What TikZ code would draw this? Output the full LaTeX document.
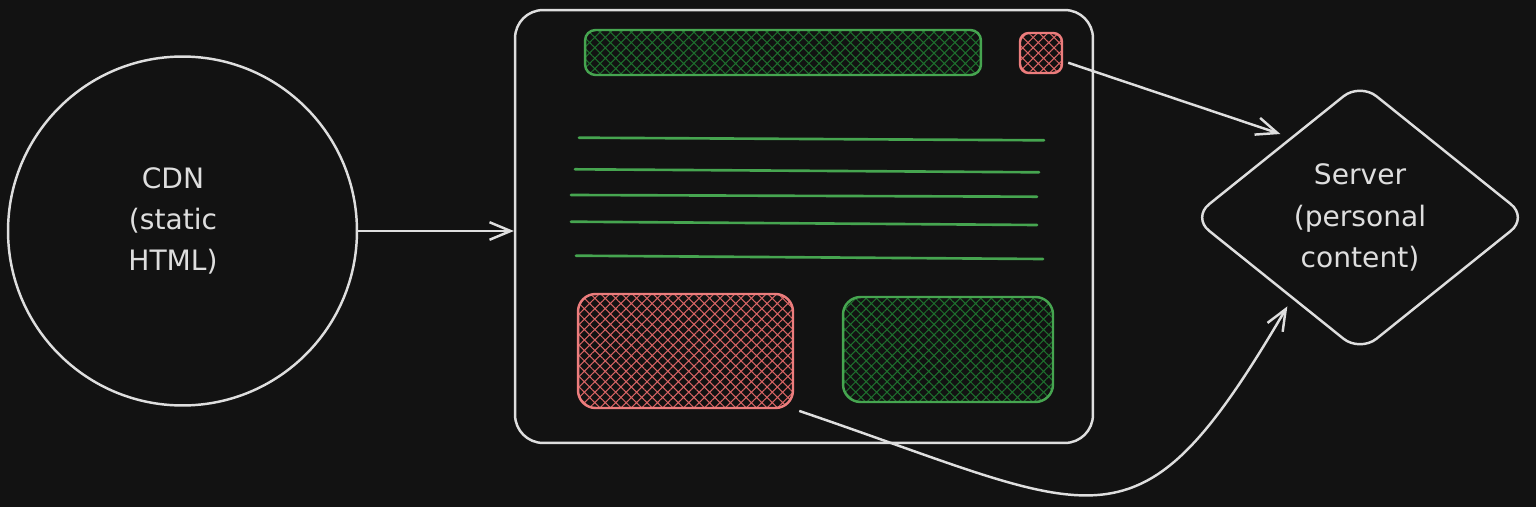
\documentclass[tikz,border=0pt]{standalone}
\usepackage{fontspec}
\setmainfont{DejaVu Sans}
\usetikzlibrary{shapes.geometric,arrows.meta,patterns.meta}
\definecolor{bgc}{HTML}{121212}
\definecolor{wht}{HTML}{DEDEDE}
\definecolor{grn}{RGB}{70,165,80}
\definecolor{grnh}{RGB}{30,110,45}
\definecolor{rd}{RGB}{236,125,125}
\definecolor{rdh}{RGB}{215,100,100}

\begin{document}
\begin{tikzpicture}[
x=0.02cm, y=-0.02cm,% one unit = one pixel of the sketch
    W/.style = {draw=wht, line width=1.4pt, inner sep=0pt},
    T/.style = {text=wht, align=center,
                font=\fontsize{16}{23.5}\selectfont},
    G/.style = {draw=grn, line width=1.5pt, line cap=round},% text lines
    H/.style 2 args = {draw=#1, line width=1.4pt, inner sep=0pt,
                pattern={Hatch[angle=45,distance=4.2pt,line width=0.6pt]},
                pattern color=#2},% hatched blocks
    A/.style = {draw=wht, line width=1.4pt,
                -{Straight Barb[length=12pt,width=10pt]}},
                        ]
\path[use as bounding box, fill=bgc] (0,0) rectangle (1536,507);
% nodes
\node[W, circle, minimum size=6.98cm] (cdn) at (182.5,231) {};
\node[T] (cdnlbl) at (173,221) {CDN\\(static\\HTML)};
\node[W, minimum width=11.56cm, minimum height=8.66cm,
      rounded corners=16pt] (page) at (804,226.5) {};
\node[H={grn}{grnh}, minimum width=7.92cm, minimum height=0.9cm,
      rounded corners=6pt] (bar) at (783,52.5) {};
\node[H={rd}{rdh}, minimum width=0.84cm, minimum height=0.8cm,
      rounded corners=5pt] (sq) at (1041,53) {};
\node[H={rd}{rdh}, minimum width=4.3cm, minimum height=2.28cm,
      rounded corners=10pt] (redbox) at (685.5,351) {};
\node[H={grn}{grnh}, minimum width=4.2cm, minimum height=2.1cm,
      rounded corners=10pt] (grnbox) at (948,349.5) {};
\node[W, T, diamond, minimum width=6.72cm, minimum height=5.4cm,
      rounded corners=12pt] (srv) at (1360,217.5) {Server\\(personal\\content)};
% text lines
\foreach \xa/\ya/\xb/\yb in {579/137.7/1044/140.3, 575/169.3/1039/172.3,
                             571/195/1037/196.7, 571/221.7/1037/225,
                             576/255.7/1043/259}
    \draw[G] (\xa,\ya) -- (\xb,\yb);
% arrows
\draw[A] (cdn.east) -- (cdn.east -| page.west);
\draw[A, shorten <=3pt, shorten >=6pt] (sq.-20) -- (srv.131);
\draw[A, shorten <=3pt, shorten >=5pt] (redbox.south east)
    .. controls (1103,514) and (1136,565) .. (srv.230);
    \end{tikzpicture}
\end{document}
